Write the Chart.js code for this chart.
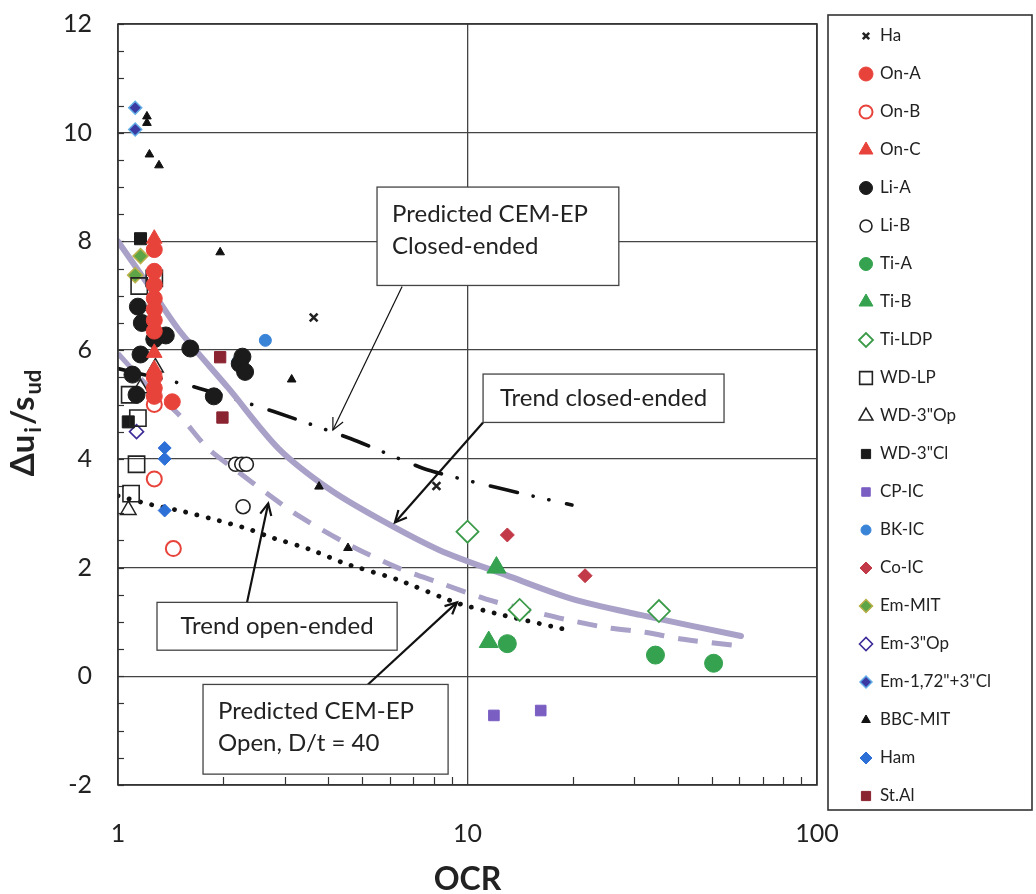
<!DOCTYPE html>
<html>
<head>
<meta charset="utf-8">
<script src="https://cdn.jsdelivr.net/npm/chart.js@4.4.1/dist/chart.umd.min.js"></script>
<style>
  html, body { margin: 0; padding: 0; background: #fff; }
  #wrap { width: 1036px; height: 894px; }
</style>
</head>
<body>
<div id="wrap"><canvas id="chart" width="1036" height="894"></canvas></div>
<script>
// ---- data (x = OCR, y = delta u / s_ud) ----
const haX = [3.63, 8.15];
const haY = [6.6, 3.5];
const onAX = [1.27, 1.27, 1.27, 1.27, 1.27, 1.27, 1.27, 1.27, 1.27, 1.27, 1.43];
const onAY = [7.85, 7.45, 7.2, 6.95, 6.75, 6.55, 6.35, 5.5, 5.3, 5.15, 5.05];
const onBX = [1.27, 1.27, 1.44];
const onBY = [5.0, 3.63, 2.35];
const onCX = [1.27, 1.27, 1.27];
const onCY = [8.05, 5.95, 5.65];
const liAX = [1.14, 1.17, 1.27, 1.37, 1.61, 1.16, 2.27, 2.23, 2.31, 1.10, 1.13, 1.88];
const liAY = [6.8, 6.5, 6.2, 6.27, 6.03, 5.92, 5.88, 5.75, 5.6, 5.55, 5.18, 5.15];
const liBX = [2.17, 2.26, 2.33, 2.28];
const liBY = [3.9, 3.9, 3.9, 3.12];
const tiAX = [13.0, 34.5, 50.6];
const tiAY = [0.6, 0.39, 0.24];
const tiBX = [12.1, 11.5];
const tiBY = [2.0, 0.63];
const tiLdpX = [10.0, 14.1, 35.3];
const tiLdpY = [2.66, 1.22, 1.2];
const wdLpX = [1.27, 1.15, 1.08, 1.14, 1.13, 1.09];
const wdLpY = [7.32, 7.18, 5.18, 4.75, 3.9, 3.36];
const wdOpX = [1.07, 1.16, 1.28];
const wdOpY = [3.06, 5.3, 5.68];
const wdClX = [1.16, 1.07];
const wdClY = [8.05, 4.68];
const cpX = [11.9, 16.2];
const cpY = [-0.72, -0.63];
const bkX = [2.64, 2.2];
const bkY = [6.18, 5.78];
const coX = [13.0, 21.7];
const coY = [2.6, 1.85];
const emMitX = [1.16, 1.12];
const emMitY = [7.73, 7.38];
const emOpX = [1.13];
const emOpY = [4.5];
const emClX = [1.12, 1.12];
const emClY = [10.46, 10.06];
const bbcX = [1.21, 1.21, 1.23, 1.31, 1.96, 3.14, 3.76, 4.55];
const bbcY = [10.3, 10.18, 9.6, 9.4, 7.8, 5.46, 3.49, 2.36];
const hamX = [1.36, 1.36, 1.36];
const hamY = [4.2, 4.0, 3.05];
const stAlX = [1.96, 1.99];
const stAlY = [5.87, 4.76];

// curves
const trendClosedX = [1.0, 1.2, 1.49, 2.07, 2.88, 4.01, 5.57, 8.32, 12.9, 20.0, 31.2, 60.6];
const trendClosedY = [8.0, 7.27, 6.38, 5.3, 4.19, 3.45, 2.9, 2.32, 1.86, 1.42, 1.13, 0.74];
const trendOpenX = [1.0, 1.22, 1.49, 1.81, 2.21, 2.7, 3.29, 4.58, 6.4, 8.32, 11.3, 14.8, 19.0, 24.8, 32.2, 41.5, 57.8];
const trendOpenY = [5.94, 5.33, 4.82, 4.19, 3.76, 3.34, 2.95, 2.42, 1.98, 1.72, 1.42, 1.22, 1.05, 0.9, 0.81, 0.68, 0.57];
const predClosedX = [1.0, 1.64, 2.79, 4.64, 7.67, 12.9, 19.9];
const predClosedY = [5.66, 5.33, 4.87, 4.37, 3.8, 3.43, 3.15];
const predOpenX = [1.0, 1.22, 1.54, 1.9, 2.36, 2.73, 3.52, 4.49, 6.36, 9.3, 12.35, 19.4];
const predOpenY = [3.32, 3.17, 3.03, 2.88, 2.71, 2.56, 2.34, 2.07, 1.77, 1.35, 1.14, 0.85];

const xTickValues = [1, 10, 100];
const yMin = -2, yMax = 12, yStep = 2;

const FONT = "Lato, 'Open Sans', 'Liberation Sans', sans-serif";
const TXT = '#222';

function pts(xs, ys) {
  return xs.map((x, i) => ({ x: x, y: ys[i] }));
}

function marker(label, xs, ys, style, r, fill, stroke, bw, legendR) {
  return {
    label: label, data: pts(xs, ys), pointStyle: style,
    pointRadius: r, pointHoverRadius: r, backgroundColor: fill, borderColor: stroke,
    borderWidth: bw, pointBorderWidth: bw, legendRadius: legendR, order: 0
  };
}

function curve(label, xs, ys, color, width, dash, cap, tension) {
  return {
    label: label, data: pts(xs, ys), showLine: true, pointRadius: 0, pointHoverRadius: 0,
    borderColor: color, borderWidth: width, borderDash: dash, borderCapStyle: cap,
    tension: tension, fill: false, order: 5, noLegend: true
  };
}

const RED = '#e8433b', GREEN = '#34a24f', LAV = '#a9a1c8';

const datasets = [
  marker('Ha', haX, haY, 'crossRot', 5.5, '#222', '#222', 2.6, 4.5),
  marker('On-A', onAX, onAY, 'circle', 8, RED, RED, 1, 7),
  marker('On-B', onBX, onBY, 'circle', 7.5, '#fff', RED, 2, 6.5),
  marker('On-C', onCX, onCY, 'triangle', 9, RED, RED, 1, 8),
  marker('Li-A', liAX, liAY, 'circle', 8.5, '#1b1b1b', '#1b1b1b', 1, 6.5),
  marker('Li-B', liBX, liBY, 'circle', 7, '#fff', '#222', 1.6, 6),
  marker('Ti-A', tiAX, tiAY, 'circle', 9, GREEN, GREEN, 1, 6.5),
  marker('Ti-B', tiBX, tiBY, 'triangle', 11, GREEN, GREEN, 1, 8),
  marker('Ti-LDP', tiLdpX, tiLdpY, 'rectRot', 11, '#fff', '#3a9a48', 1.8, 7),
  marker('WD-LP', wdLpX, wdLpY, 'rect', 11.5, 'rgba(255,255,255,0)', '#222', 1.6, 9),
  marker('WD-3"Op', wdOpX, wdOpY, 'triangle', 9, 'rgba(255,255,255,0)', '#222', 1.5, 8),
  marker('WD-3"Cl', wdClX, wdClY, 'rect', 8.5, '#1b1b1b', '#1b1b1b', 1, 6.5),
  marker('CP-IC', cpX, cpY, 'rect', 7.5, '#7a5ec2', '#7a5ec2', 1, 6),
  marker('BK-IC', bkX, bkY, 'circle', 6, '#3a84d8', '#3a84d8', 1, 5),
  marker('Co-IC', coX, coY, 'rectRot', 7, '#c23a48', '#c23a48', 1, 6),
  marker('Em-MIT', emMitX, emMitY, 'rectRot', 7.5, '#5da546', '#b8b04a', 1.5, 6.5),
  marker('Em-3"Op', emOpX, emOpY, 'rectRot', 7, '#fff', '#3d2b98', 1.6, 6.5),
  marker('Em-1,72"+3"Cl', emClX, emClY, 'rectRot', 6.5, '#3b3aa2', '#62aee8', 1.5, 6),
  marker('BBC-MIT', bbcX, bbcY, 'triangle', 5, '#111', '#111', 1, 5),
  marker('Ham', hamX, hamY, 'rectRot', 6.5, '#2c6fd6', '#2c6fd6', 1, 6),
  marker('St.Al', stAlX, stAlY, 'rect', 8, '#8a2431', '#8a2431', 1, 6.5),
  curve('Trend closed-ended', trendClosedX, trendClosedY, LAV, 6, [], 'round', 0.3),
  curve('Trend open-ended', trendOpenX, trendOpenY, LAV, 5, [20, 14], 'butt', 0.3),
  curve('Predicted CEM-EP closed', predClosedX, predClosedY, '#111', 3.6, [28, 16, 0.1, 16, 0.1, 18], 'round', 0.2),
  curve('Predicted CEM-EP open', predOpenX, predOpenY, '#111', 4.8, [0.1, 11.5], 'round', 0.2)
];

// text boxes and arrows, placed in data coordinates
const notes = [
  { x1: 5.51, x2: 27.1, y1: 9.0, y2: 7.19, lines: ['Predicted CEM-EP', 'Closed-ended'] },
  { x1: 11.08, x2: 54.2, y1: 5.56, y2: 4.67, lines: ['Trend closed-ended'] },
  { x1: 1.293, x2: 6.29, y1: 1.36, y2: 0.48, lines: ['Trend open-ended'] },
  { x1: 1.751, x2: 8.80, y1: -0.15, y2: -1.80, lines: ['Predicted CEM-EP', 'Open, D/t = 40'] }
];
const arrows = [
  { fx: 6.50, fy: 7.17, tx: 4.12, ty: 4.53, w: 1.2 },
  { fx: 11.08, fy: 4.67, tx: 6.20, ty: 2.83, w: 2.2 },
  { fx: 2.34, fy: 1.36, tx: 2.69, ty: 3.18, w: 2.2 },
  { fx: 5.19, fy: -0.15, tx: 9.33, ty: 1.36, w: 2.2 }
];

const framePlugin = {
  id: 'frame',
  beforeDatasetsDraw(chart) {
    const ctx = chart.ctx, a = chart.chartArea;
    const xs = chart.scales.x, ys = chart.scales.y;
    ctx.save();
    ctx.strokeStyle = '#333';
    ctx.lineWidth = 1.2;
    // minor ticks on the left axis
    for (let v = yMin; v <= yMax; v += 0.5) {
      const py = Math.round(ys.getPixelForValue(v)) + 0.5;
      ctx.beginPath(); ctx.moveTo(a.left, py); ctx.lineTo(a.left + 6, py); ctx.stroke();
    }
    // minor ticks on the bottom axis
    [1, 10].forEach(d => {
      for (let k = 2; k <= 9; k++) {
        const px = Math.round(xs.getPixelForValue(k * d)) + 0.5;
        ctx.beginPath(); ctx.moveTo(px, a.bottom); ctx.lineTo(px, a.bottom - 8); ctx.stroke();
      }
    });
    ctx.restore();
  },
  afterDatasetsDraw(chart) {
    const ctx = chart.ctx, a = chart.chartArea;
    const xs = chart.scales.x, ys = chart.scales.y;
    ctx.save();
    ctx.strokeStyle = '#333';
    ctx.lineWidth = 1.6;
    ctx.strokeRect(a.left, a.top, a.right - a.left, a.bottom - a.top);

    // arrows
    ctx.strokeStyle = '#111';
    ctx.fillStyle = '#111';
    arrows.forEach(ar => {
      const x0 = xs.getPixelForValue(ar.fx), y0 = ys.getPixelForValue(ar.fy);
      const x1 = xs.getPixelForValue(ar.tx), y1 = ys.getPixelForValue(ar.ty);
      const ang = Math.atan2(y1 - y0, x1 - x0);
      ctx.lineWidth = ar.w;
      ctx.beginPath(); ctx.moveTo(x0, y0); ctx.lineTo(x1, y1); ctx.stroke();
      const hl = 13, hw = 0.45;
      ctx.beginPath();
      ctx.moveTo(x1 - hl * Math.cos(ang - hw), y1 - hl * Math.sin(ang - hw));
      ctx.lineTo(x1, y1);
      ctx.lineTo(x1 - hl * Math.cos(ang + hw), y1 - hl * Math.sin(ang + hw));
      ctx.stroke();
    });

    // boxes
    ctx.font = '24px ' + FONT;
    ctx.textBaseline = 'middle';
    notes.forEach(n => {
      const l = xs.getPixelForValue(n.x1), r = xs.getPixelForValue(n.x2);
      const t = ys.getPixelForValue(n.y1), b = ys.getPixelForValue(n.y2);
      ctx.fillStyle = '#fff';
      ctx.fillRect(l, t, r - l, b - t);
      ctx.strokeStyle = '#444';
      ctx.lineWidth = 1.3;
      ctx.strokeRect(l, t, r - l, b - t);
      ctx.fillStyle = TXT;
      const lh = 32;
      if (n.lines.length === 1) {
        ctx.textAlign = 'center';
        ctx.fillText(n.lines[0], (l + r) / 2, (t + b) / 2);
      } else {
        ctx.textAlign = 'left';
        n.lines.forEach((s, i) => ctx.fillText(s, l + 15, t + 27 + i * lh));
      }
    });
    ctx.restore();
  },
  afterDraw(chart) {
    const ctx = chart.ctx;
    ctx.save();
    // legend box
    ctx.strokeStyle = '#333';
    ctx.lineWidth = 1.6;
    ctx.strokeRect(828, 15, 204, 795);
    const items = chart.data.datasets.filter(d => !d.noLegend);
    ctx.font = '17px ' + FONT;
    ctx.textAlign = 'left';
    ctx.textBaseline = 'middle';
    items.forEach((d, i) => {
      const y = 36 + i * 38;
      ctx.fillStyle = d.backgroundColor;
      ctx.strokeStyle = d.borderColor;
      ctx.lineWidth = d.borderWidth;
      Chart.helpers.drawPoint(ctx, { pointStyle: d.pointStyle, radius: d.legendRadius, rotation: 0, borderWidth: d.borderWidth }, 866, y);
      ctx.fillStyle = TXT;
      ctx.fillText(d.label, 880, y);
    });

    // x axis title
    ctx.font = 'bold 32px ' + FONT;
    ctx.textAlign = 'center';
    ctx.textBaseline = 'middle';
    ctx.fillStyle = TXT;
    ctx.fillText('OCR', (chart.chartArea.left + chart.chartArea.right) / 2, 880);

    // y axis title with subscripts
    ctx.translate(25, 422);
    ctx.rotate(-Math.PI / 2);
    const parts = [['Δu', false], ['i', true], ['/s', false], ['ud', true]];
    const big = 'bold 33px ' + FONT, small = 'bold 22px ' + FONT;
    let total = 0;
    parts.forEach(p => { ctx.font = p[1] ? small : big; total += ctx.measureText(p[0]).width + 2; });
    let cx = -total / 2;
    ctx.textAlign = 'left';
    ctx.textBaseline = 'alphabetic';
    parts.forEach(p => {
      ctx.font = p[1] ? small : big;
      ctx.fillText(p[0], cx, p[1] ? 16 : 9);
      cx += ctx.measureText(p[0]).width + 2;
    });
    ctx.restore();
  }
};

new Chart(document.getElementById('chart'), {
  type: 'scatter',
  data: { datasets: datasets },
  options: {
    responsive: false,
    animation: false,
    devicePixelRatio: 1,
    layout: { padding: { top: 24, right: 219, left: 0, bottom: 0 } },
    plugins: { legend: { display: false }, tooltip: { enabled: false } },
    scales: {
      x: {
        type: 'logarithmic', min: 1, max: 100,
        afterBuildTicks: s => { s.ticks = xTickValues.map(v => ({ value: v })); },
        afterFit: s => { s.height = 109; s.paddingLeft = 0; s.paddingRight = 0; },
        grid: { color: '#444', lineWidth: 1.3, drawTicks: false },
        border: { display: false },
        ticks: { padding: 34, color: TXT, font: { family: FONT, size: 25 }, autoSkip: false, maxRotation: 0,
          callback: v => String(v) },
        title: { display: false }
      },
      y: {
        min: yMin, max: yMax,
        afterFit: s => { s.width = 118; s.paddingTop = 0; s.paddingBottom = 0; },
        grid: { color: '#444', lineWidth: 1.3, drawTicks: false },
        border: { display: false },
        ticks: { stepSize: yStep, padding: 26, color: TXT, font: { family: FONT, size: 25 } }
      }
    }
  },
  plugins: [framePlugin]
});
</script>
</body>
</html>
